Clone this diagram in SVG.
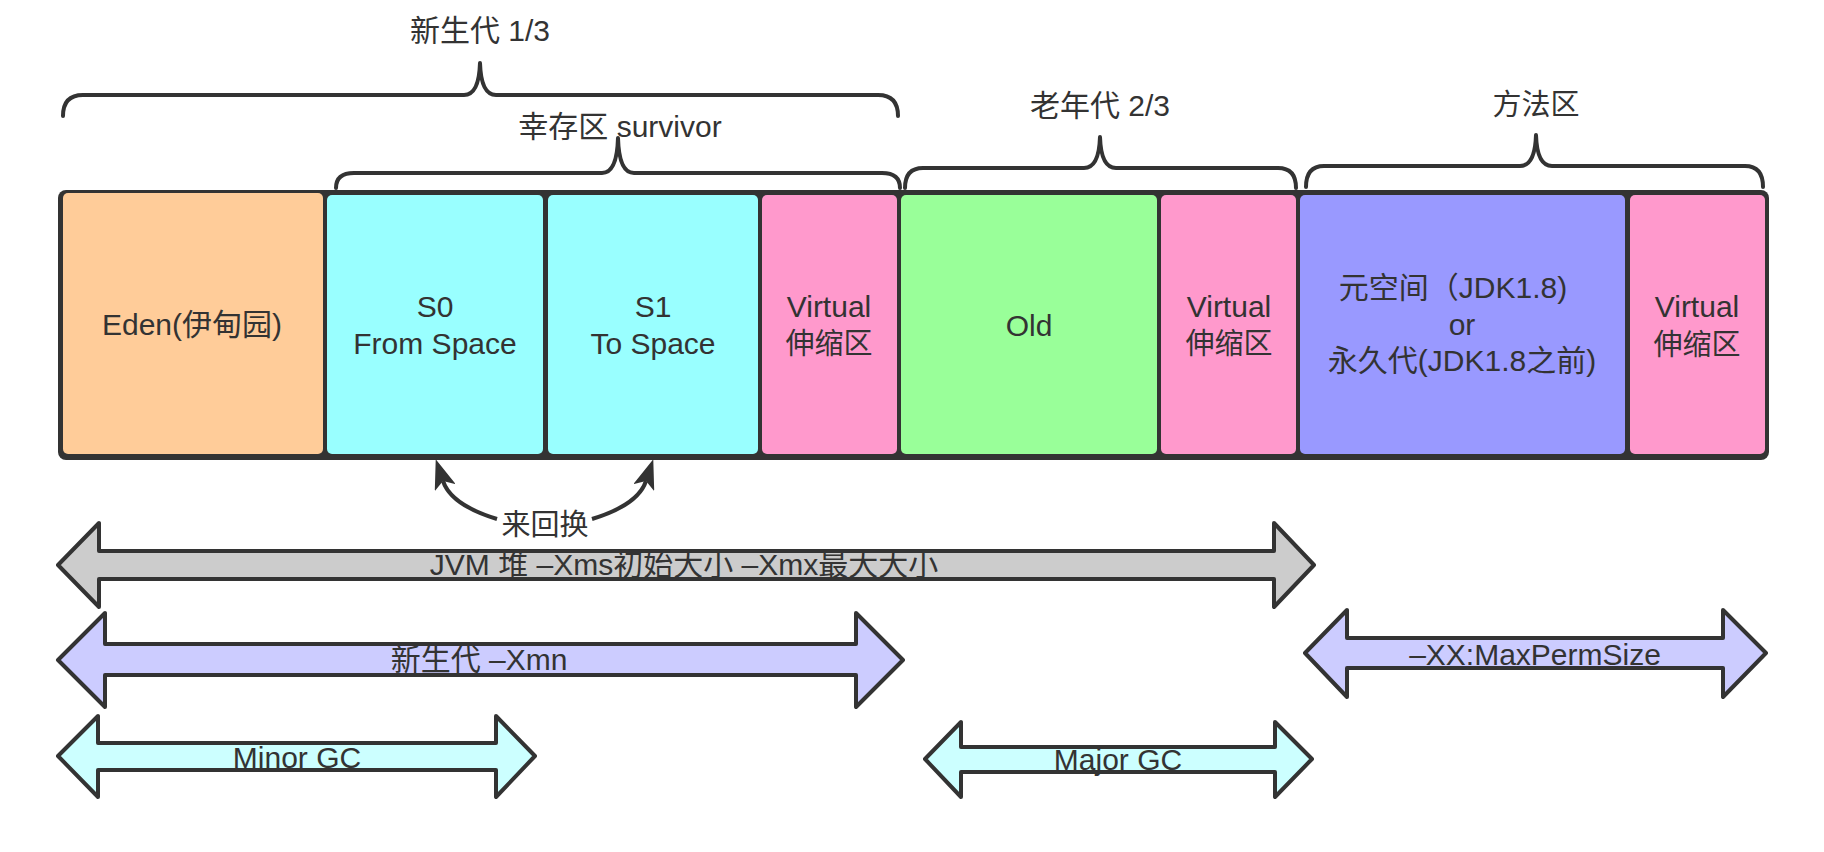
<svg xmlns="http://www.w3.org/2000/svg" width="1824" height="852" viewBox="0 0 1824 852">
<style>
text{font-family:"Liberation Sans","Noto Sans CJK SC",sans-serif;font-size:30px;fill:#333;text-anchor:middle}
text.cjk{font-size:29px}
.box{stroke:none}
.brace{fill:none;stroke:#333;stroke-width:4;stroke-linecap:round;stroke-linejoin:round}
.arr{stroke:#333;stroke-width:4;stroke-linejoin:round}
.curve{fill:none;stroke:#333;stroke-width:4}
</style>
<defs>
<marker id="ah" viewBox="0 0 30 22" refX="7" refY="11" markerWidth="30" markerHeight="22" markerUnits="userSpaceOnUse" orient="auto">
<path d="M0,0 L30,11 L0,22 L7,11 Z" fill="#333"/>
</marker>
</defs>
<rect width="1824" height="852" fill="#fff"/>
<g id="strip"><rect x="58" y="190" width="1711" height="270" rx="8" fill="#333"/></g>
<g id="eden"><rect class="box" x="63" y="193" width="260" height="261" rx="5" fill="#FFCC99"/><text x="192" y="335">Eden(伊甸园)</text></g>
<g id="s0"><rect class="box" x="327" y="195" width="216" height="259" rx="5" fill="#99FFFF"/><text x="435" y="317">S0</text><text x="435" y="354">From Space</text></g>
<g id="s1"><rect class="box" x="548" y="195" width="210" height="259" rx="5" fill="#99FFFF"/><text x="653" y="317">S1</text><text x="653" y="354">To Space</text></g>
<g id="virtual1"><rect class="box" x="762" y="195" width="135" height="259" rx="5" fill="#FF99CC"/><text x="829" y="317">Virtual</text><text class="cjk" x="829" y="354">伸缩区</text></g>
<g id="old"><rect class="box" x="901" y="195" width="256" height="259" rx="5" fill="#99FF99"/><text x="1029" y="336">Old</text></g>
<g id="virtual2"><rect class="box" x="1161" y="195" width="135" height="259" rx="5" fill="#FF99CC"/><text x="1229" y="317">Virtual</text><text class="cjk" x="1229" y="354">伸缩区</text></g>
<g id="meta"><rect class="box" x="1300" y="195" width="325" height="259" rx="5" fill="#9999FF"/><text x="1453" y="298">元空间（JDK1.8)</text><text x="1462" y="335">or</text><text x="1462" y="371">永久代(JDK1.8之前)</text></g>
<g id="virtual3"><rect class="box" x="1630" y="195" width="135" height="259" rx="5" fill="#FF99CC"/><text x="1697" y="317">Virtual</text><text class="cjk" x="1697" y="355">伸缩区</text></g>

<g id="brace-young">
<path class="brace" d="M63,116 Q63,95 83,95 L464,95 Q479,95 480,63 Q481,95 496,95 L878,95 Q898,95 898,116"/>
<text x="480" y="41">新生代 1/3</text>
</g>
<g id="brace-survivor">
<path class="brace" d="M336,188 Q336,173 354,173 L602,173 Q617,173 618,138 Q619,173 634,173 L882,173 Q900,173 900,188"/>
<text x="620" y="137">幸存区 survivor</text>
</g>
<g id="brace-old">
<path class="brace" d="M905,188 Q905,168 923,168 L1084,168 Q1099,168 1100,137 Q1101,168 1116,168 L1278,168 Q1296,168 1296,188"/>
<text x="1100" y="116">老年代 2/3</text>
</g>
<g id="brace-method">
<path class="brace" d="M1306,187 Q1306,166 1324,166 L1520,166 Q1535,166 1536,135 Q1537,166 1552,166 L1745,166 Q1763,166 1763,187"/>
<text class="cjk" x="1536" y="115">方法区</text>
</g>

<g id="connectors">
<path class="curve" d="M497,519 Q451,505 443,481" marker-end="url(#ah)"/>
<path class="curve" d="M592,519 Q638,505 646,481" marker-end="url(#ah)"/>
</g>
<g id="swap-label"><text class="cjk" x="545" y="535">来回换</text></g>

<g id="jvm-heap">
<polygon class="arr" fill="#CCCCCC" points="58,565 99,523 99,551 1274,551 1274,523 1314,565 1274,607 1274,579 99,579 99,607"/>
<text x="684" y="575">JVM 堆 –Xms初始大小 –Xmx最大大小</text>
</g>
<g id="young-xmn">
<polygon class="arr" fill="#CCCCFF" points="58,660 105,613 105,644 856,644 856,613 903,660 856,707 856,675 105,675 105,707"/>
<text x="479" y="670">新生代 –Xmn</text>
</g>
<g id="minor-gc">
<polygon class="arr" fill="#CCFFFF" points="58,756 98,716 98,743 496,743 496,716 535,756 496,797 496,770 98,770 98,797"/>
<text x="297" y="768">Minor GC</text>
</g>
<g id="max-perm">
<polygon class="arr" fill="#CCCCFF" points="1305,653 1347,610 1347,638 1723,638 1723,610 1766,653 1723,697 1723,668 1347,668 1347,697"/>
<text x="1535" y="665">–XX:MaxPermSize</text>
</g>
<g id="major-gc">
<polygon class="arr" fill="#CCFFFF" points="925,759 961,722 961,747 1275,747 1275,722 1312,759 1275,797 1275,772 961,772 961,797"/>
<text x="1118" y="770">Major GC</text>
</g>
</svg>
